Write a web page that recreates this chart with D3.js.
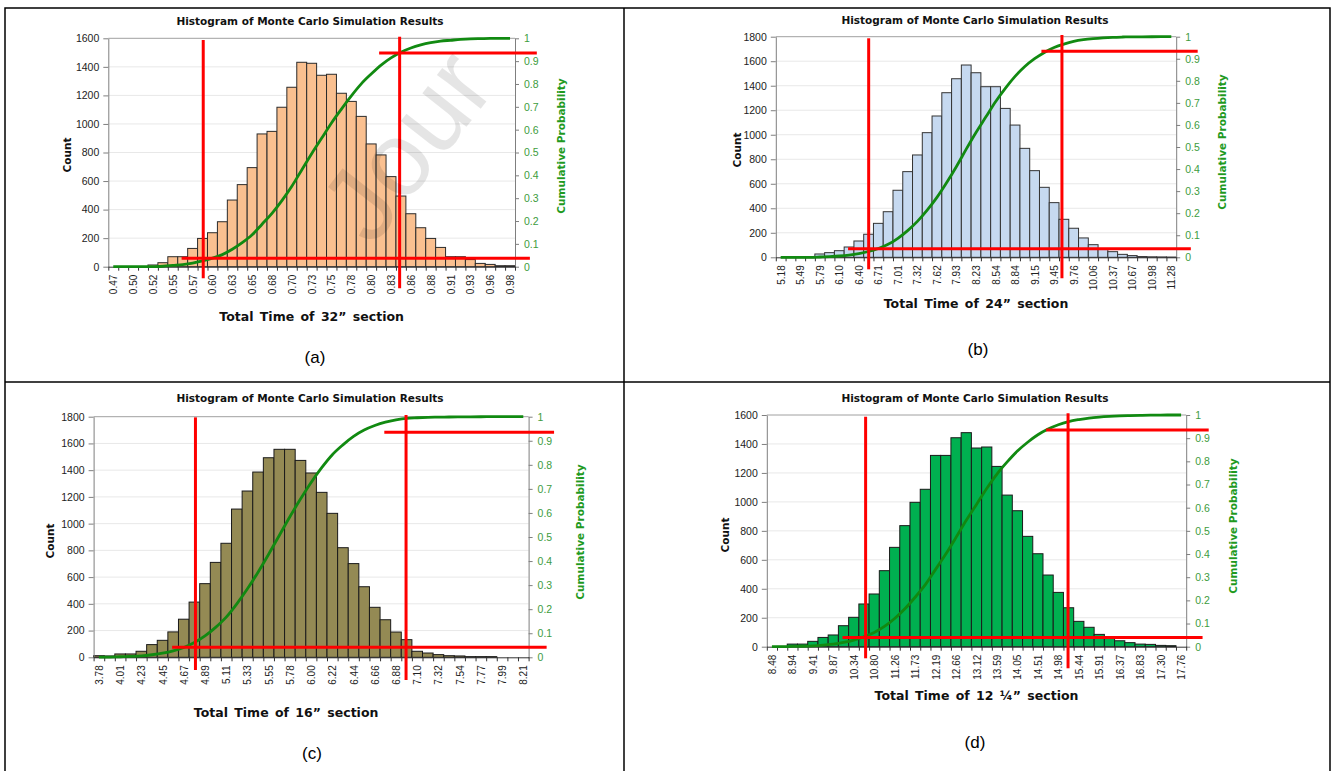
<!DOCTYPE html>
<html><head><meta charset="utf-8">
<script src="https://cdn.jsdelivr.net/npm/d3@7"></script>
<style>
body{margin:0;background:#fff;}
svg{display:block;font-family:"DejaVu Sans",Verdana,sans-serif;}
</style>
</head><body>
<svg id="chart" width="1335" height="771"></svg>
<script>
// ---------- DATA ----------
const countsA = [0,0,0,0,12,28,70,70,128,198,238,315,467,575,694,930,948,1117,1257,1432,1425,1341,1348,1215,1158,1053,860,783,631,495,371,273,198,135,70,70,50,23,16,7,7];
const labelsA = ["0.47","0.50","0.52","0.55","0.57","0.60","0.63","0.65","0.68","0.70","0.73","0.75","0.78","0.80","0.83","0.86","0.88","0.91","0.93","0.96","0.98"];

const countsB = [0,0,0,0,27,38,54,84,133,188,277,372,547,699,835,1017,1153,1343,1457,1569,1506,1392,1392,1215,1079,889,707,571,446,310,237,158,103,70,46,24,14,6,4,3,2];
const labelsB = ["5.18","5.49","5.79","6.10","6.40","6.71","7.01","7.32","7.62","7.93","8.23","8.54","8.84","9.15","9.45","9.76","10.06","10.37","10.67","10.98","11.28"];

const countsC = [12,10,25,25,45,95,127,190,285,413,551,710,853,1109,1244,1386,1493,1556,1556,1473,1379,1234,1077,820,701,528,374,281,189,132,45,32,20,12,10,5,5,5,0,0,0];
const labelsC = ["3.78","4.01","4.23","4.45","4.67","4.89","5.11","5.33","5.55","5.78","6.00","6.22","6.44","6.66","6.88","7.10","7.32","7.54","7.77","7.99","8.21"];

const countsD = [0,2,18,18,37,64,81,145,203,295,364,525,686,836,997,1087,1321,1321,1443,1478,1372,1379,1245,1047,939,762,642,495,375,269,175,134,85,58,41,28,18,16,9,7,0];
const labelsD = ["8.48","8.94","9.41","9.87","10.34","10.80","11.26","11.73","12.19","12.66","13.12","13.59","14.05","14.51","14.98","15.44","15.91","16.37","16.83","17.30","17.76"];

const countTicksA = [0,200,400,600,800,1000,1200,1400,1600];
const countTicksB = [0,200,400,600,800,1000,1200,1400,1600,1800];
const countTicksC = [0,200,400,600,800,1000,1200,1400,1600,1800];
const countTicksD = [0,200,400,600,800,1000,1200,1400,1600];
const probTicks = [0,0.1,0.2,0.3,0.4,0.5,0.6,0.7,0.8,0.9,1];

// red marker lines: vertical [bin position, count from, count to]; horizontal [probability, bin from, bin to]
const redVertA = [[9.57,-81,1588],[29.37,-151,1611]];
const redHorizA = [[0.037,7.39,42.5],[0.936,27.3,43.2]];
const redVertB = [[9.51,-98,1787],[29.3,-171,1814]];
const redHorizB = [[0.039,7.4,42.5],[0.934,27.2,43.2]];
const redVertC = [[9.6,-95,1795],[29.45,-170,1813]];
const redHorizC = [[0.042,7.4,42.7],[0.935,27.4,43.4]];
const redVertD = [[9.66,-80,1588],[29.45,-149,1612]];
const redHorizD = [[0.04,7.4,42.6],[0.935,27.3,43.2]];

const chartTitle = "Histogram of Monte Carlo Simulation Results";
const xTitles = ["Total Time of 32\u201D section","Total Time of 24\u201D section","Total Time of 16\u201D section","Total Time of 12 \u00BC\u201D section"];
const tags = ["(a)","(b)","(c)","(d)"];

// ---------- LAYOUT ----------
const panels = [
  {counts:countsA, labels:labelsA, ticks:countTicksA, vert:redVertA, horiz:redHorizA, fill:"#FAC090", stroke:"#2b2b2b",
   l:108.3, r:515, t:38.3, b:266.7, cx:310, titleY:25, countX:67, countY:155, cumX:561, cumY:146, xtY:321, tagX:315, tagY:363, xt:xTitles[0], tag:tags[0]},
  {counts:countsB, labels:labelsB, ticks:countTicksB, vert:redVertB, horiz:redHorizB, fill:"#C6D9F0", stroke:"#333",
   l:775.8, r:1176.2, t:36.7, b:257.3, cx:975, titleY:24, countX:737, countY:150, cumX:1222, cumY:142, xtY:308, tagX:978, tagY:355, xt:xTitles[1], tag:tags[1]},
  {counts:countsC, labels:labelsC, ticks:countTicksC, vert:redVertC, horiz:redHorizC, fill:"#948A54", stroke:"#1a1a1a",
   l:93.6, r:528.6, t:416.7, b:657.3, cx:310, titleY:402, countX:50, countY:541, cumX:580, cumY:532, xtY:717, tagX:312, tagY:759, xt:xTitles[2], tag:tags[2]},
  {counts:countsD, labels:labelsD, ticks:countTicksD, vert:redVertD, horiz:redHorizD, fill:"#00B050", stroke:"#1a1a1a",
   l:766.8, r:1186.2, t:415, b:646.7, cx:975, titleY:402, countX:725, countY:535, cumX:1233, cumY:526, xtY:700, tagX:975, tagY:748, xt:xTitles[3], tag:tags[3]}
];

const svg = d3.select("#chart");

// table borders
svg.append("rect").attr("x",5).attr("y",8).attr("width",1325).attr("height",790)
  .attr("fill","none").attr("stroke","#000").attr("stroke-width",1.5);
svg.append("line").attr("x1",624).attr("x2",624).attr("y1",8).attr("y2",771).attr("stroke","#000").attr("stroke-width",1.5);
svg.append("line").attr("x1",5).attr("x2",1330).attr("y1",382).attr("y2",382).attr("stroke","#000").attr("stroke-width",1.5);

panels.forEach((p,pi)=>{
  const n = p.counts.length;
  const yMax = p.ticks[p.ticks.length-1];
  const x = d3.scaleLinear().domain([0,n]).range([p.l,p.r]);
  const y = d3.scaleLinear().domain([0,yMax]).range([p.b,p.t]);
  const yc = d3.scaleLinear().domain([0,1]).range([p.b,p.t]);
  const g = svg.append("g");

  // gridlines
  g.selectAll(".grid").data(p.ticks.filter(d=>d>0)).join("line")
    .attr("x1",p.l).attr("x2",p.r).attr("y1",d=>y(d)).attr("y2",d=>y(d))
    .attr("stroke",d=>d===yMax?"#a0a0a0":"#e8e8e8").attr("stroke-width",1);

  // bars
  g.selectAll(".bar").data(p.counts.map((v,i)=>({v,i})).filter(d=>d.v>0)).join("rect")
    .attr("x",d=>x(d.i)).attr("width",d=>x(d.i+1)-x(d.i))
    .attr("y",d=>y(d.v)).attr("height",d=>y(0)-y(d.v))
    .attr("fill",p.fill).attr("stroke",p.stroke).attr("stroke-width",1);

  // axes
  const ax = g.append("g").attr("transform",`translate(${p.l},0)`)
    .call(d3.axisLeft(y).tickValues(p.ticks).tickSize(5).tickSizeOuter(0).tickPadding(4).tickFormat(d3.format("d")));
  ax.select(".domain").attr("stroke","#7f7f7f");
  ax.selectAll(".tick line").attr("stroke","#7f7f7f");
  ax.selectAll("text").attr("fill","#222").attr("font-size",10.5);

  const ar = g.append("g").attr("transform",`translate(${p.r},0)`)
    .call(d3.axisRight(yc).tickValues(probTicks).tickSize(4).tickSizeOuter(0).tickPadding(5)
      .tickFormat(d=>d3.format("~g")(+d.toFixed(1))));
  ar.select(".domain").attr("stroke","#7f7f7f");
  ar.selectAll(".tick line").attr("stroke","#7f7f7f");
  ar.selectAll("text").attr("fill","#3d9c3d").attr("font-size",10.5);

  const ab = g.append("g").attr("transform",`translate(0,${p.b})`)
    .call(d3.axisBottom(x).tickValues(d3.range(n+1)).tickSize(4).tickSizeOuter(0).tickFormat(""));
  ab.select(".domain").attr("stroke","#333");
  ab.selectAll(".tick line").attr("stroke","#333");

  const al = g.append("g").attr("transform",`translate(0,${p.b})`)
    .call(d3.axisBottom(x).tickValues(d3.range(0,n,2).map(i=>i+0.5)).tickSize(0)
      .tickFormat((d,i)=>p.labels[i]));
  al.select(".domain").remove();
  al.selectAll("text").attr("transform","rotate(-90)").attr("x",-8).attr("y",0).attr("dy","0.35em")
    .attr("text-anchor","end").attr("fill","#222").attr("font-size",10);

  // cumulative curve
  const cum = Array.from(d3.cumsum(p.counts));
  const total = cum[n-1];
  const line = d3.line().x((d,i)=>x(i+0.5)).y(d=>yc(d/total)).curve(d3.curveMonotoneX);
  g.append("path").datum(cum).attr("d",line).attr("fill","none").attr("stroke","#118a11").attr("stroke-width",2.8);

  // red marker lines
  g.selectAll(".rv").data(p.vert).join("line")
    .attr("x1",d=>x(d[0])).attr("x2",d=>x(d[0])).attr("y1",d=>y(d[1])).attr("y2",d=>y(d[2]))
    .attr("stroke","#ff0000").attr("stroke-width",3);
  g.selectAll(".rh").data(p.horiz).join("line")
    .attr("x1",d=>x(d[1])).attr("x2",d=>x(d[2])).attr("y1",d=>yc(d[0])).attr("y2",d=>yc(d[0]))
    .attr("stroke","#ff0000").attr("stroke-width",3);

  // texts
  g.append("text").attr("x",p.cx).attr("y",p.titleY).attr("text-anchor","middle")
    .attr("font-weight","bold").attr("font-size",10.5).attr("fill","#111").text(chartTitle);
  g.append("text").attr("transform",`translate(${p.countX},${p.countY}) rotate(-90)`).attr("text-anchor","middle")
    .attr("dy","0.35em").attr("font-weight","bold").attr("font-size",10.5).attr("fill","#111").text("Count");
  g.append("text").attr("transform",`translate(${p.cumX},${p.cumY}) rotate(-90)`).attr("text-anchor","middle")
    .attr("dy","0.35em").attr("font-weight","bold").attr("font-size",10.5).attr("fill","#1f9a1f").text("Cumulative Probability");
  g.append("text").attr("x",(p.l+p.r)/2 - (pi===2?25:0)).attr("y",p.xtY).attr("text-anchor","middle")
    .attr("font-weight","bold").attr("font-size",12.5).attr("word-spacing",2).attr("fill","#111").text(p.xt);
  g.append("text").attr("x",p.tagX).attr("y",p.tagY).attr("text-anchor","middle")
    .attr("font-family","'Liberation Sans',Arial,sans-serif").attr("font-size",17).attr("fill","#000").text(p.tag);
});

// watermark
svg.append("text").attr("transform","translate(372,248) rotate(-52)")
  .attr("font-family","'Liberation Sans',Arial,sans-serif").attr("font-size",105)
  .attr("fill","#000").attr("fill-opacity",0.1).text("Jour");
</script>
</body></html>
